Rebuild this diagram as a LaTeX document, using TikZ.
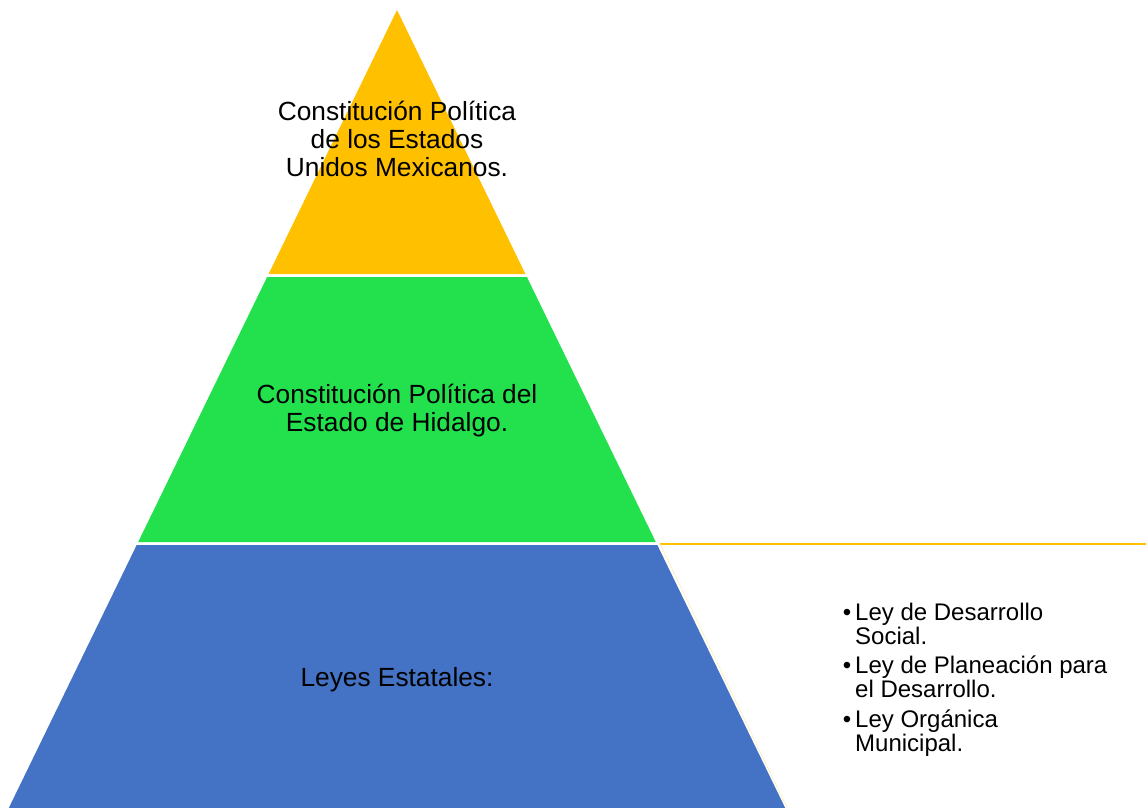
\documentclass[tikz,border=0pt]{standalone}
\usepackage{fontspec}
\setmainfont{Liberation Sans}
\usepackage{xcolor}
\usetikzlibrary{positioning}

\definecolor{pyrYellow}{HTML}{FFC000}
\definecolor{pyrGreen}{HTML}{23E14D}
\definecolor{pyrBlue}{HTML}{4472C4}

\begin{document}
\begin{tikzpicture}[
    x=1pt, y=-1pt,
    label/.style={font=\fontsize{26.3}{27.7}\selectfont, align=center, inner sep=0pt, text=black},
    lawitem/.style={font=\fontsize{24}{24.5}\selectfont, align=left, inner sep=0pt, anchor=north west},
    link/.style={draw=pyrYellow, line width=1.5pt}
]
\useasboundingbox (0,0) rectangle (1146,808);

% pyramid bands
\fill[pyrYellow] (397,10) -- (525.4,274) -- (268.6,274) -- cycle;
\fill[pyrGreen] (267.1,277) -- (526.9,277) -- (655.8,542) -- (138.2,542) -- cycle;
\fill[pyrBlue] (136.7,545) -- (657.3,545) -- (785.2,808) -- (8.8,808) -- cycle;

% band texts
\node[label, anchor=north] (federal) at (397,101.3) {Constitución Política\\de los Estados\\Unidos Mexicanos.};
\node[label, anchor=north] (estatal) at (397,383.9) {Constitución Política del\\Estado de Hidalgo.};
\node[label, anchor=base] (leyes) at (397,686.7) {Leyes Estatales:};

% connector to the list
\coordinate (blueCorner) at (660,544);
\coordinate (lineEnd) at (1146,544);
\coordinate (edgeEnd) at (787.2,808);
\draw[link] (blueCorner) -- (lineEnd);
\draw[pyrYellow!35, line width=0.5pt] (blueCorner) -- (edgeEnd);

% list of laws
\node[lawitem] (ley1) at (855,602.9) {\llap{•\hspace{4pt}}Ley de Desarrollo\\Social.};
\node[lawitem] (ley2) at (855,655.5) {\llap{•\hspace{4pt}}Ley de Planeación para\\el Desarrollo.};
\node[lawitem] (ley3) at (855,709.4) {\llap{•\hspace{4pt}}Ley Orgánica\\Municipal.};

\end{tikzpicture}
\end{document}
